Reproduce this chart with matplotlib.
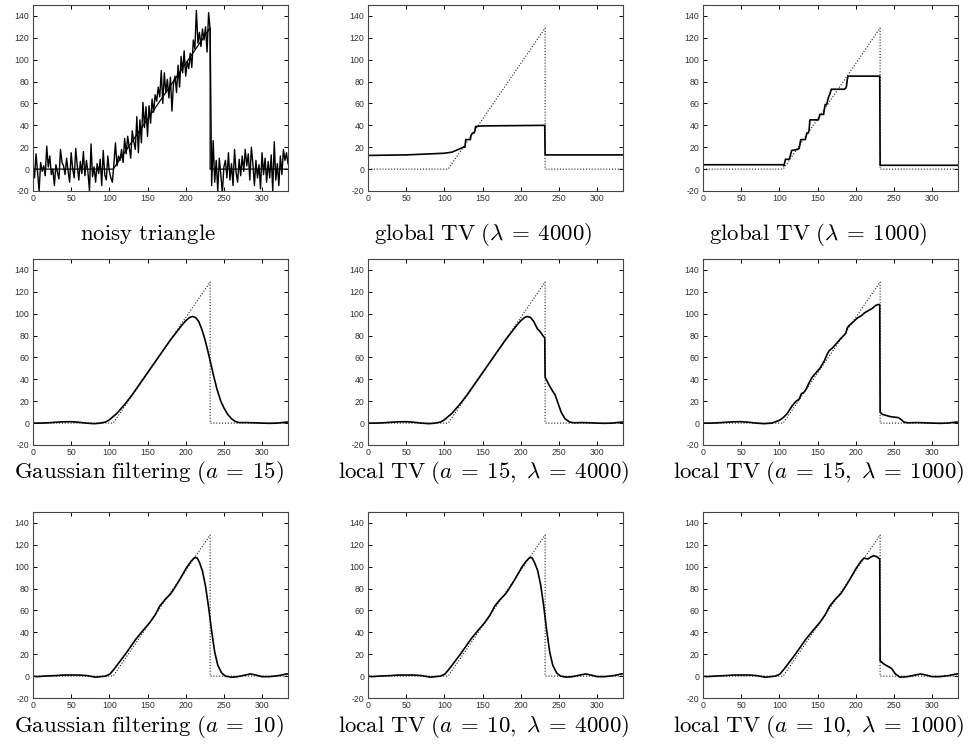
import numpy as np
import matplotlib
matplotlib.use("Agg")
import matplotlib.pyplot as plt

plt.rcParams['mathtext.fontset'] = 'cm'
plt.rcParams['axes.unicode_minus'] = False
plt.rcParams['font.family'] = ['Liberation Sans', 'DejaVu Sans']

# triangle (ground truth)
tri_x = [0, 105, 232, 232, 334]
tri_y = [0, 0, 129, 0, 0]

# noisy triangle, one sample every 2 units starting at x=0
noisy = [5, -8, 14, -3, -20, 6, -2, 3, -6, 21, 2, 12, -5, 0, -15, 4, -3, -9, 18, 6,
         3, -5, 10, -2, -12, 15, 0, -8, 19, 3, -10, 7, -4, 16, -6, 8, -3, -20, 23, -7,
         2, -12, 5, -4, 9, -15, 17, -5, -10, 12, -2,
         -8, -12, 5, 24, 3, 12, 8, 18, 6, 28, 14, 30, 20, 10, 35, 25, 18, 48, 15, 45,
         24, 61, 38, 57, 30, 58, 42, 64, 52, 68, 62, 75, 66, 90, 60, 88, 70, 82, 65, 84,
         53, 78, 85, 70, 95, 75, 103, 88, 108, 85, 98, 92, 106, 93, 118, 110, 145, 115, 125, 112,
         128, 118, 130, 107, 143, 128,
         -15, 26, -12, 8, -20, 10, -5, -22, 2, 8, -8, 15, -10, 5, -15, 18, -3, -12, 9, -6,
         12, -2, 18, 3, 14, -10, 20, 5, -15, 8, -8, 4, -18, 15, -5, 10, -12, 7, -8, 13,
         -20, 25, -10, 5, -15, 12, -5, 18, 8, 15, 5]

# global TV, lambda = 4000
gtv4_x = [0, 50, 100, 110, 115, 120, 125, 127, 128, 134, 135, 137, 139, 140, 141, 150, 231.5, 232, 334]
gtv4_y = [12.5, 13, 14.5, 15.5, 17, 18.5, 20, 20, 27, 27, 31, 33, 33, 35, 39, 39.5, 40, 13, 13]

# global TV, lambda = 1000
gtv1_x = [0, 105, 106, 107, 108, 113, 115, 116, 124, 126, 128, 134, 135, 136, 138, 139, 140, 151, 152,
          153, 158, 159, 160, 162, 163, 165, 166, 168, 185, 187, 188, 189, 190, 231.5, 232, 334]
gtv1_y = [4, 4, 3, 6, 9, 9, 14, 17, 18, 19, 27, 27, 30, 33, 33, 36, 45, 45, 47,
          50, 50, 55, 59, 59, 62, 67, 68, 73, 73, 74, 76, 82, 85, 85, 3.5, 3.5]

# Gaussian filtering, a = 15
g15_x = [0, 10, 20, 30, 40, 50, 60, 70, 80, 88, 95, 100, 105, 110, 115, 120, 130, 140, 150, 160,
         170, 180, 190, 195, 200, 205, 209, 213, 217, 221, 225, 229, 233, 237, 241, 246, 250, 255,
         260, 265, 270, 280, 290, 300, 310, 320, 330, 334]
g15_y = [0, 0, 0.3, 0.8, 1.2, 1.3, 0.8, 0, -0.5, 0, 1, 3, 6, 9, 13, 17, 26, 36, 46, 56,
         66, 76, 85, 89.5, 93.5, 96.5, 97.5, 96.5, 93, 86, 77, 66, 54, 42, 31, 20, 14, 8,
         4, 1.5, 0.5, 0.5, 0.3, 0, -0.2, 0, 0.8, 1]

# local TV, a = 15, lambda = 4000
l15_4_x = [0, 10, 20, 30, 40, 50, 60, 70, 80, 88, 95, 100, 105, 110, 115, 120, 130, 140, 150, 160,
           170, 180, 190, 195, 200, 205, 209, 213, 217, 222, 225, 229, 231.5, 232, 237, 242, 245,
           249, 253, 258, 264, 270, 280, 290, 300, 310, 320, 330, 334]
l15_4_y = [0, 0, 0.3, 0.8, 1.2, 1.3, 0.8, 0, -0.5, 0, 1, 3, 6, 9, 13, 17, 26, 36, 46, 56,
           66, 76, 85, 89.5, 93.5, 96.5, 97.5, 96.5, 93, 86, 84, 80, 78, 42, 35, 29, 26,
           18, 10, 4, 1, 0.3, 0.5, 0.3, 0, -0.2, 0, 0.8, 1]

# local TV, a = 15, lambda = 1000
l15_1_x = [0, 10, 20, 30, 40, 50, 60, 70, 80, 90, 100, 105, 110, 117, 122, 126, 129, 132, 135, 139,
           143, 148, 153, 159, 162, 165, 170, 175, 180, 187, 189, 191, 196, 202, 207, 212, 217,
           222, 226, 230, 231.5, 232, 235, 240, 245, 250, 256, 260, 263, 268, 280, 290, 300, 310,
           320, 330, 334]
l15_1_y = [0, 0, 0.3, 0.8, 1.2, 1.3, 0.8, 0, -0.5, 0, 2.5, 5, 8.5, 16, 20, 22, 27, 28, 31, 37,
           42, 46, 50, 57, 62, 66, 69, 73, 77, 82, 87, 89, 92, 96, 98, 101, 103,
           105, 107.5, 108.5, 108, 10, 8, 7, 6, 5.5, 5, 3, 1, 0.3, 0.5, 0.3, 0, -0.2,
           0, 0.8, 1]

# Gaussian filtering, a = 10
g10_x = [0, 5, 15, 30, 40, 60, 70, 82, 95, 101, 108, 115, 122, 135, 145, 153, 160, 166, 173, 180, 184,
         192, 201, 207, 212, 215, 218, 222, 226, 230, 234, 238, 242, 247, 252, 260, 268, 278, 285,
         292, 300, 310, 322, 332, 334]
g10_y = [0, -0.5, 0, 0.5, 1, 1, 0.5, -1, 0, 2, 8, 14.5, 21, 34, 42.5, 49, 56, 64, 70, 75, 79,
         88, 99, 105, 108.5, 108, 104, 96, 82, 63, 41, 22, 10, 3, 0, -1, -0.5, 1, 2,
         1, -0.5, -0.5, 0.5, 2, 2]

# local TV, a = 10, lambda = 4000
l10_4_x = [0, 5, 15, 30, 40, 60, 70, 82, 95, 101, 108, 115, 122, 135, 145, 153, 160, 166, 173, 180, 184,
           192, 201, 207, 212, 215, 218, 222, 226, 230, 234, 238, 242, 247, 252, 260, 268, 278, 285,
           292, 300, 310, 322, 332, 334]
l10_4_y = [0, -0.5, 0, 0.5, 1, 1, 0.5, -1, 0, 2, 8, 14.5, 21, 34, 42.5, 49, 56, 64, 70, 75, 79,
           88, 99, 105, 108.5, 108, 104, 97, 84, 65, 42, 22, 10, 3, 0, -1, -0.5, 1, 2,
           1, -0.5, -0.5, 0.5, 2, 2]

# local TV, a = 10, lambda = 1000
l10_1_x = [0, 5, 15, 30, 40, 60, 70, 82, 95, 101, 108, 115, 122, 135, 145, 153, 160, 166, 173, 180, 184,
           192, 201, 207, 211, 213, 216, 220, 224, 228, 231.5, 232, 237, 242, 247, 252, 258, 268, 278,
           285, 292, 300, 310, 322, 332, 334]
l10_1_y = [0, -0.5, 0, 0.5, 1, 1, 0.5, -1, 0, 2, 8, 14.5, 21, 34, 42.5, 49, 56, 64, 70, 75, 79,
           88, 99, 105, 108, 107.5, 107, 109, 110, 109, 107, 14, 11, 9, 7, 2, -1, -0.5, 1,
           2, 1, -0.5, -0.5, 0.5, 2, 2]

titles = [r'$\mathrm{noisy\ triangle}$',
          r'$\mathrm{global\ TV}\ (\lambda\:=\:4000)$',
          r'$\mathrm{global\ TV}\ (\lambda\:=\:1000)$',
          r'$\mathrm{Gaussian\ filtering}\ (a\:=\:15)$',
          r'$\mathrm{local\ TV}\ (a\:=\:15,\ \lambda\:=\:4000)$',
          r'$\mathrm{local\ TV}\ (a\:=\:15,\ \lambda\:=\:1000)$',
          r'$\mathrm{Gaussian\ filtering}\ (a\:=\:10)$',
          r'$\mathrm{local\ TV}\ (a\:=\:10,\ \lambda\:=\:4000)$',
          r'$\mathrm{local\ TV}\ (a\:=\:10,\ \lambda\:=\:1000)$']

curves = [(np.arange(len(noisy)) * 2, noisy),
          (gtv4_x, gtv4_y), (gtv1_x, gtv1_y),
          (g15_x, g15_y), (l15_4_x, l15_4_y), (l15_1_x, l15_1_y),
          (g10_x, g10_y), (l10_4_x, l10_4_y), (l10_1_x, l10_1_y)]

W, H = 973, 756
fig = plt.figure(figsize=(W / 100, H / 100), dpi=100)

lefts = [33, 368, 703]
tops = [5, 259, 512]
aw, ah = 255, 186
label_y = [234, 473, 727]

for i in range(9):
    r, c = divmod(i, 3)
    ax = fig.add_axes([lefts[c] / W, 1 - (tops[r] + ah) / H, aw / W, ah / H])
    x, y = curves[i]
    if i == 0:
        ax.plot(tri_x, tri_y, color='black', lw=0.9)
        ax.plot(x, y, color='black', lw=1.0)
    else:
        ax.plot(tri_x, tri_y, color='#222222', lw=0.8, dashes=(1, 1.6))
        ax.plot(x, y, color='black', lw=1.2)
    ax.set_xlim(0, 334)
    ax.set_ylim(-20, 150)
    ax.set_xticks([0, 50, 100, 150, 200, 250, 300])
    ax.set_yticks(range(-20, 141, 20))
    ax.tick_params(direction='in', length=3, width=0.7, top=True, right=True,
                   labelsize=6.3, labelcolor='#333333', pad=2.5)
    for s in ax.spines.values():
        s.set_linewidth(0.8)
        s.set_color('#444444')
    fig.text((lefts[c] + aw / 2 - 12) / W, 1 - label_y[r] / H, titles[i],
             ha='center', va='center', fontsize=16.5)

fig.savefig('out.png', dpi=100)
